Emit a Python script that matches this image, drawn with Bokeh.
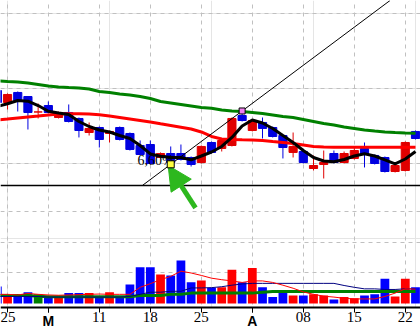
from bokeh.plotting import figure
from bokeh.models import (Range1d, FixedTicker, Grid, Span, Label, Arrow,
                          NormalHead, ColumnDataSource, BoxAnnotation, LinearAxis)
from bokeh.embed import file_html
from bokeh.resources import INLINE

# ---------------- data (bar index, one per trading day) ----------------
idx = list(range(-1, 41))
opens = [39.73, 38.13, 39.47, 38.93, 36.87, 37.73, 36.13, 36.80, 36.00, 34.13,
         34.80, 34.00, 34.80, 34.00, 32.40, 32.53, 30.80, 31.33, 31.33, 30.80,
         30.13, 32.80, 32.00, 32.40, 36.40, 34.40, 35.47, 34.80, 33.73, 31.47,
         31.60, 29.33, 29.87, 31.33, 30.13, 30.67, 32.00, 31.07, 30.80, 28.93,
         29.07, 34.27]
highs = [40.00, 39.33, 39.60, 38.95, 38.00, 38.27, 36.93, 37.87, 36.13, 35.47,
         34.93, 34.40, 34.93, 34.13, 33.07, 33.07, 31.47, 32.27, 32.53, 30.93,
         32.40, 32.93, 33.20, 36.13, 37.00, 35.87, 36.13, 34.93, 33.87, 34.13,
         31.73, 31.07, 31.73, 31.73, 31.60, 32.13, 32.80, 31.20, 30.93, 29.87,
         32.93, 34.40]
lows = [37.87, 37.20, 36.93, 34.53, 36.00, 36.67, 36.00, 35.47, 33.47, 33.73,
        32.13, 32.80, 33.07, 31.73, 31.07, 29.87, 30.67, 29.89, 30.40, 29.60,
        30.00, 31.33, 31.60, 32.27, 35.60, 34.27, 33.33, 33.47, 30.67, 30.80,
        30.00, 29.07, 28.00, 30.00, 30.00, 30.53, 29.47, 29.87, 28.80, 28.80,
        28.93, 33.20]
closes = [38.13, 39.20, 38.40, 36.80, 36.87, 36.80, 36.80, 35.60, 34.40, 34.67,
          33.20, 34.27, 33.20, 31.87, 31.20, 30.00, 31.33, 30.13, 30.53, 29.87,
          32.27, 31.47, 33.07, 36.00, 35.73, 35.73, 34.67, 33.60, 32.13, 32.27,
          30.13, 29.73, 30.13, 30.13, 31.33, 31.73, 31.33, 30.00, 28.93, 29.73,
          32.80, 33.33]
ma_short = [37.60, 37.96, 38.40, 38.31, 37.73, 36.97, 36.73, 36.53, 35.60, 34.93,
            34.47, 34.20, 33.73, 33.33, 32.40, 31.27, 30.97, 30.80, 30.80, 30.49,
            31.00, 31.53, 32.27, 33.47, 35.00, 35.80, 35.40, 34.67, 33.73, 32.80,
            31.73, 30.80, 30.33, 30.23, 30.53, 31.00, 31.29, 31.00, 30.47, 29.96,
            30.60, 31.60]
ma_mid = [35.80, 35.93, 36.07, 36.20, 36.33, 36.47, 36.60, 36.63, 36.63, 36.60,
          36.49, 36.33, 36.13, 35.93, 35.73, 35.53, 35.29, 35.07, 34.84, 34.60,
          34.20, 33.60, 33.27, 33.20, 33.16, 33.13, 33.07, 32.93, 32.80, 32.67,
          32.47, 32.27, 32.20, 32.17, 32.17, 32.17, 32.17, 32.17, 32.17, 32.17,
          32.17, 32.17]
ma_long = [41.00, 40.93, 40.87, 40.73, 40.53, 40.33, 40.20, 40.13, 40.07, 39.93,
           39.60, 39.47, 39.27, 39.13, 38.93, 38.67, 38.27, 38.07, 37.87, 37.67,
           37.47, 37.37, 37.13, 37.00, 36.93, 36.80, 36.67, 36.47, 36.27, 36.13,
           35.87, 35.60, 35.33, 35.13, 34.87, 34.67, 34.47, 34.33, 34.20, 34.13,
           34.07, 34.04]
volume = [56, 26, 23, 37, 30, 23, 23, 34, 34, 34, 23, 37, 23, 62, 119, 119, 95, 92,
          141, 70, 75, 52, 53, 111, 70, 116, 53, 21, 40, 26, 26, 30, 26, 13, 21, 17,
          26, 30, 81, 23, 81, 53]
vol_ma_short = [30, 30, 28, 33, 30, 28, 27, 28, 29, 30, 31, 30, 30, 30, 53, 65, 78,
                89, 106, 100, 92, 83, 78, 74, 69, 74, 74, 69, 60, 50, 38, 30, 24,
                21, 17, 15, 15, 15, 23, 34, 48, 47]
vol_ma_mid = [23, 23, 23, 23, 23, 21, 21, 21, 21, 21, 21, 21, 21, 23, 30, 37, 37,
              40, 40, 51, 51, 52, 55, 60, 64, 66, 66, 66, 66, 66, 66, 66, 66, 66,
              59, 53, 48, 48, 46, 46, 48, 48]
vol_ma_long = [26, 26, 26, 26, 24, 22, 22, 22, 22, 22, 22, 22, 22, 22, 26, 26, 26,
               30, 30, 34, 34, 34, 34, 34, 34, 34, 37, 39, 39, 39, 39, 39, 39, 39,
               39, 39, 39, 39, 39, 39, 39, 39]

tick_idx = [0, 4, 9, 14, 19, 24, 29, 34, 39]
tick_labels = ["25", "M", "11", "18", "25", "A", "08", "15", "22"]
price_grid = [30, 40, 50]
vol_grid = [100, 200, 300]
axis_level = 10.8        # price level where the time axis sits
support_level = 27.07
anchor_low_bar = 16      # trend line anchor 1 (low of this bar)
anchor_high_bar = 23     # trend line anchor 2 (high of this bar)
pct_text = "6,60%"
arrow_tail = (18.43, 24.09)
arrow_tip = (15.75, 29.73)

# ---------------- styling ----------------
C_UP, C_DN = "#e00000", "#0000e0"
V_UP, V_DN, V_EQ = "#ff0000", "#0000ff", "#008000"
FONT = "Liberation Sans Narrow"
FONT_BOLD = "Liberation Sans"

p = figure(width=420, height=328, output_backend="svg", toolbar_location=None,
           x_range=Range1d(-0.69, 40.49), y_range=Range1d(8.0, 51.73),
           y_axis_location=None, x_axis_location=None,
           min_border_left=0, min_border_right=0, min_border_top=0,
           min_border_bottom=0, outline_line_color=None,
           background_fill_color="white", border_fill_color="white")
p.extra_y_ranges = {"vol": Range1d(-82.0, 993.4)}

gkw = dict(grid_line_color="#c0c0c0", grid_line_dash="4 4", grid_line_width=1)
p.add_layout(Grid(dimension=0, ticker=FixedTicker(ticks=tick_idx), **gkw))
p.add_layout(Grid(dimension=1, ticker=FixedTicker(ticks=price_grid), **gkw))
p.add_layout(Grid(dimension=1, ticker=FixedTicker(ticks=vol_grid),
                  y_range_name="vol", **gkw))
# blank strip below the time axis (grid lines stop at the axis)
p.add_layout(BoxAnnotation(top=axis_level, fill_color="white", fill_alpha=1.0,
                           line_color=None, level="underlay"))

# ---------------- time axis (two real axes at the same spot) ----------------
num_over = {t: ("" if s.isalpha() else s) for t, s in zip(tick_idx, tick_labels)}
mon_ticks = [t for t, s in zip(tick_idx, tick_labels) if s.isalpha()]
mon_over = {t: s for t, s in zip(tick_idx, tick_labels) if s.isalpha()}

ax = LinearAxis(fixed_location=axis_level, ticker=FixedTicker(ticks=tick_idx),
                major_label_overrides=num_over, major_tick_out=5, major_tick_in=0,
                minor_tick_line_color=None, axis_line_width=2,
                major_tick_line_width=1, major_label_standoff=0,
                major_label_text_font=FONT, major_label_text_font_size="15px",
                major_label_text_color="black")
ax_m = LinearAxis(fixed_location=axis_level, ticker=FixedTicker(ticks=mon_ticks),
                  major_label_overrides=mon_over, major_tick_out=5,
                  major_tick_in=0, minor_tick_line_color=None,
                  axis_line_color=None, major_tick_line_width=1,
                  major_label_standoff=1, major_label_text_font=FONT_BOLD,
                  major_label_text_font_size="14px",
                  major_label_text_font_style="bold",
                  major_label_text_color="black")
p.add_layout(ax, "below")
p.add_layout(ax_m, "below")

# ---------------- volume ----------------
vcol = [V_UP if c > o else (V_EQ if c == o else V_DN) for o, c in zip(opens, closes)]
p.vbar(x=idx, top=volume, bottom=0, width=0.86, fill_color=vcol, line_color=None,
       y_range_name="vol")
p.line(idx, vol_ma_long, color="#008000", line_width=3, y_range_name="vol")
p.line(idx, vol_ma_mid, color="#000080", line_width=1, y_range_name="vol")
p.line(idx, vol_ma_short, color="#ff0000", line_width=1, y_range_name="vol")

# ---------------- candles ----------------
ccol = [C_UP if c >= o else C_DN for o, c in zip(opens, closes)]
src = ColumnDataSource(dict(x=idx, h=highs, l=lows,
                            top=[max(o, c) for o, c in zip(opens, closes)],
                            bot=[min(o, c) for o, c in zip(opens, closes)],
                            col=ccol))
p.segment(x0="x", y0="l", x1="x", y1="h", color="col", line_width=1, source=src)
p.vbar(x="x", top="top", bottom="bot", width=0.8, fill_color="col",
       line_color="col", line_width=1, source=src)

p.line(idx, ma_mid, color="#ff0000", line_width=3)
p.line(idx, ma_long, color="#008000", line_width=3)
p.line(idx, ma_short, color="#000000", line_width=3)

# ---------------- support + trend line ----------------
p.add_layout(Span(location=support_level, dimension="width", line_color="black",
                  line_width=1.5))
y1 = lows[idx.index(anchor_low_bar)]
y2 = highs[idx.index(anchor_high_bar)]
slope = (y2 - y1) / (anchor_high_bar - anchor_low_bar)
ytop = p.y_range.end
xs = anchor_low_bar + (support_level - y1) / slope
xe = anchor_low_bar + (ytop - y1) / slope
p.line([xs, xe], [support_level, ytop], color="black", line_width=1)

p.add_layout(Label(x=anchor_low_bar, y=y1, text=pct_text, text_align="right",
                   text_baseline="bottom", x_offset=3, y_offset=-4,
                   text_font=FONT, text_font_size="14px", text_color="black"))

m1 = p.scatter([anchor_low_bar], [y1], marker="square", size=7,
               fill_color="#ffff40", line_color="black", line_width=1)
m2 = p.scatter([anchor_high_bar], [y2], marker="square", size=6,
               fill_color="#f080f0", line_color="black", line_width=1)
m1.level = "overlay"
m2.level = "overlay"

green = "#2db81e"
p.add_layout(Arrow(end=NormalHead(size=24, fill_color=green, line_color=green),
                   x_start=arrow_tail[0], y_start=arrow_tail[1],
                   x_end=arrow_tip[0], y_end=arrow_tip[1],
                   line_color=green, line_width=5))

open("out.html", "w").write(file_html(p, INLINE))
